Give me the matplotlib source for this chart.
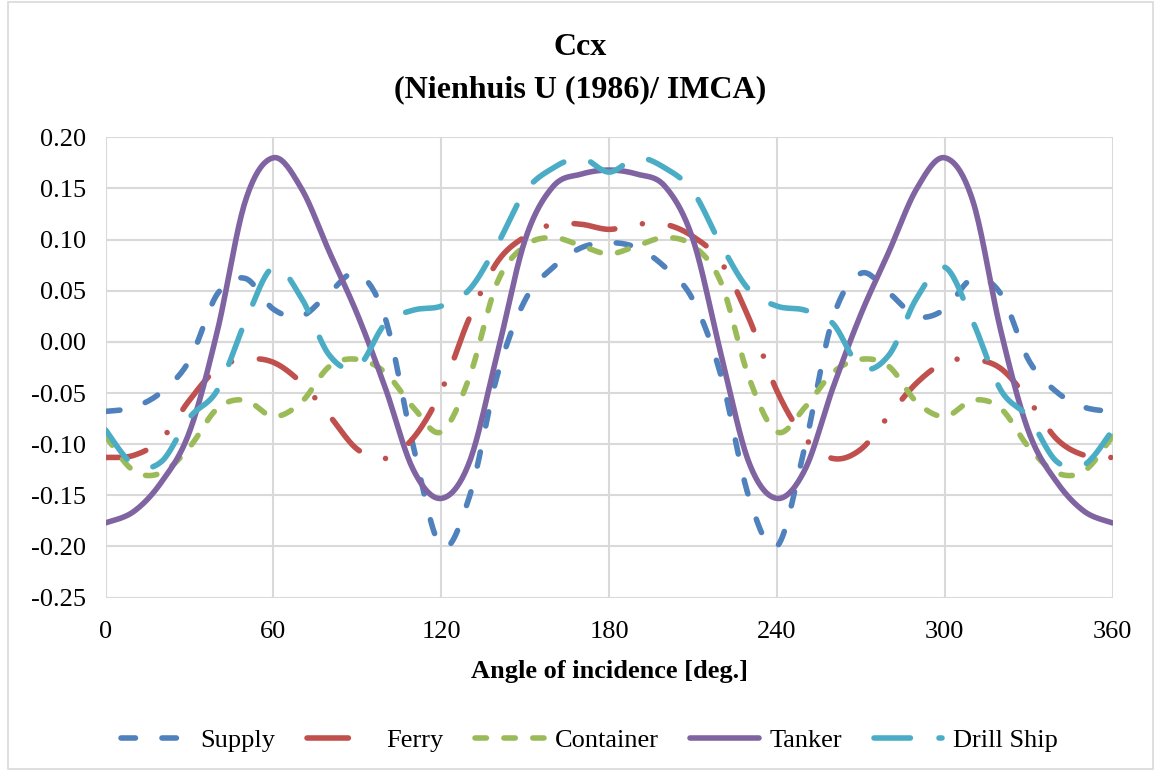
import numpy as np
import matplotlib
matplotlib.use("Agg")
import matplotlib.pyplot as plt
from matplotlib.ticker import FormatStrFormatter, MultipleLocator
from matplotlib.patches import Rectangle

plt.rcParams['font.family'] = ['Liberation Serif', 'DejaVu Serif']
plt.rcParams['axes.unicode_minus'] = False
plt.rcParams['lines.scale_dashes'] = False

# angle of incidence [deg], every 10 deg
angles = list(range(0, 361, 10))

supply = [-0.068, -0.064, -0.049, -0.018, 0.047, 0.062, 0.032, 0.025, 0.048, 0.067,
          0.023, -0.102, -0.200, -0.152, -0.033, 0.041, 0.073, 0.092, 0.097,
          0.092, 0.073, 0.041, -0.033, -0.152, -0.200, -0.102, 0.023, 0.067,
          0.048, 0.025, 0.032, 0.062, 0.047, -0.018, -0.049, -0.064, -0.068]

ferry = [-0.113, -0.111, -0.095, -0.057, -0.026, -0.017, -0.020, -0.040, -0.072, -0.105,
         -0.114, -0.094, -0.048, 0.023, 0.078, 0.103, 0.115, 0.115, 0.110,
         0.115, 0.115, 0.103, 0.078, 0.023, -0.048, -0.094, -0.114, -0.105,
         -0.072, -0.040, -0.020, -0.017, -0.026, -0.057, -0.095, -0.111, -0.113]

container = [-0.092, -0.126, -0.128, -0.103, -0.065, -0.057, -0.073, -0.059, -0.024, -0.017,
             -0.030, -0.064, -0.088, -0.035, 0.058, 0.094, 0.102, 0.094, 0.086,
             0.094, 0.102, 0.094, 0.058, -0.035, -0.088, -0.064, -0.030, -0.017,
             -0.024, -0.059, -0.073, -0.057, -0.065, -0.103, -0.128, -0.126, -0.092]

tanker = [-0.177, -0.166, -0.137, -0.088, 0.011, 0.138, 0.180, 0.150, 0.088, 0.027,
          -0.045, -0.125, -0.153, -0.118, -0.012, 0.100, 0.152, 0.164, 0.168,
          0.164, 0.152, 0.100, -0.012, -0.118, -0.153, -0.125, -0.045, 0.027,
          0.088, 0.150, 0.180, 0.138, 0.011, -0.088, -0.137, -0.166, -0.177]

drill_ship = [-0.086, -0.120, -0.117, -0.074, -0.047, 0.020, 0.073, 0.043, -0.013, -0.025,
              0.018, 0.031, 0.035, 0.051, 0.095, 0.147, 0.170, 0.180, 0.166,
              0.180, 0.170, 0.147, 0.095, 0.051, 0.035, 0.031, 0.018, -0.025,
              -0.013, 0.043, 0.073, 0.020, -0.047, -0.074, -0.117, -0.120, -0.086]

series = [
    ("Supply", supply, "#4F81BD", (10.4, 19.1)),
    ("Ferry", ferry, "#C0504D", (29.8, 20.2, 0.01, 20.2)),
    ("Container", container, "#9BBB59", (8.2, 12.6)),
    ("Tanker", tanker, "#8064A2", None),
    ("Drill Ship", drill_ship, "#4BACC6", (26.2, 20.6)),
]


def smooth(x, y, n=20):
    # Excel-like smoothed line (cubic Bezier through the points)
    x = np.asarray(x, float)
    y = np.asarray(y, float)
    px = np.concatenate([[x[0]], x, [x[-1]]])
    py = np.concatenate([[y[0]], y, [y[-1]]])
    t = np.linspace(0, 1, n, endpoint=False)
    xs, ys = [], []
    for i in range(1, len(px) - 2):
        p0x, p0y = px[i], py[i]
        p3x, p3y = px[i + 1], py[i + 1]
        c1x = p0x + (px[i + 1] - px[i - 1]) / 6
        c1y = p0y + (py[i + 1] - py[i - 1]) / 6
        c2x = p3x - (px[i + 2] - px[i]) / 6
        c2y = p3y - (py[i + 2] - py[i]) / 6
        b0 = (1 - t) ** 3
        b1 = 3 * (1 - t) ** 2 * t
        b2 = 3 * (1 - t) * t ** 2
        b3 = t ** 3
        xs.append(b0 * p0x + b1 * c1x + b2 * c2x + b3 * p3x)
        ys.append(b0 * p0y + b1 * c1y + b2 * c2y + b3 * p3y)
    xs.append([x[-1]])
    ys.append([y[-1]])
    return np.concatenate(xs), np.concatenate(ys)


fig = plt.figure(figsize=(11.56, 7.71), dpi=100)
ax = fig.add_axes([0.0913, 0.2249, 0.9625 - 0.0913, 0.8219 - 0.2249])

for name, vals, color, dash in series:
    sx, sy = smooth(angles, vals)
    line, = ax.plot(sx, sy, color=color, lw=4.0, label=name,
                    solid_capstyle='round', dash_capstyle='round', solid_joinstyle='round')
    if dash is not None:
        line.set_dashes(dash)

ax.set_xlim(0, 360)
ax.set_ylim(-0.25, 0.20)
ax.xaxis.set_major_locator(MultipleLocator(60))
ax.yaxis.set_major_locator(MultipleLocator(0.05))
ax.yaxis.set_major_formatter(FormatStrFormatter('%.2f'))
ax.grid(True, color='#D9D9D9', lw=1.5)
ax.set_axisbelow(True)
ax.axhline(0, color='#BFBFBF', lw=1.5, zorder=0.5)
for s in ax.spines.values():
    s.set_visible(False)
ax.tick_params(length=0, labelsize=19)
ax.tick_params(axis='x', pad=17)
ax.tick_params(axis='y', pad=14)

ax.set_xlabel("Angle of incidence [deg.]", fontsize=19, fontweight='bold', labelpad=12)

fig.text(0.502, 0.939, "Ccx", ha='center', va='center', fontsize=23, fontweight='bold')
fig.text(0.502, 0.884, "(Nienhuis U (1986)/ IMCA)", ha='center', va='center',
         fontsize=23, fontweight='bold')

fig.legend(loc='center', bbox_to_anchor=(0.51, 0.04), ncol=5, frameon=False,
           fontsize=19, handlelength=2.6, handletextpad=0.4, columnspacing=1.2)

fig.patches.append(Rectangle((0.007, 0.002), 0.99, 0.995, transform=fig.transFigure,
                             fill=False, edgecolor='#D9D9D9', lw=1.2))

fig.savefig("out.png", dpi=100, facecolor='white')
